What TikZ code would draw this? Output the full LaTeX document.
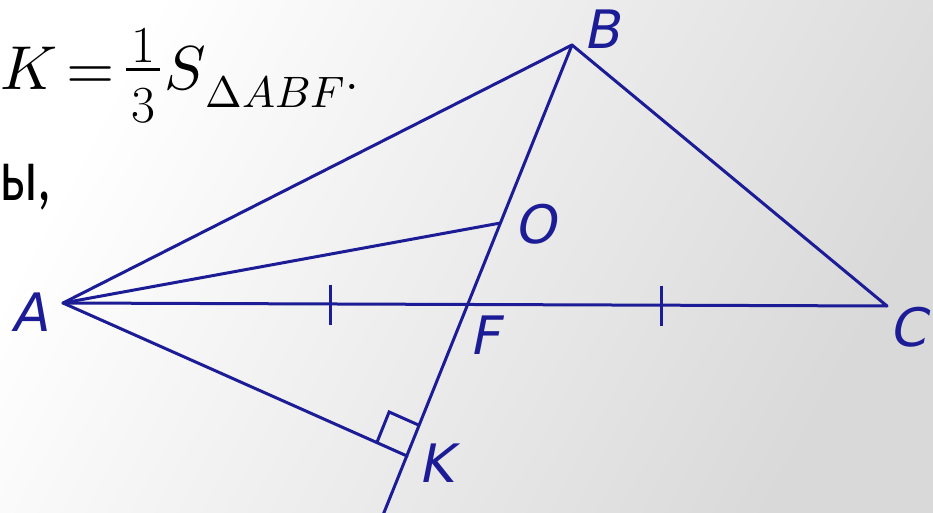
\documentclass[tikz,border=0pt]{standalone}
\usepackage{fontspec}
\usepackage{unicode-math}
\setmathfont{Latin Modern Math}
\newfontfamily\labelfont{DejaVu Sans}[FakeSlant=0.2]
\newfontfamily\cyrfont{Carlito}[FakeStretch=0.74]
\usetikzlibrary{calc}
\definecolor{geo}{RGB}{28,28,150}
\begin{document}
\begin{tikzpicture}[x=1pt,y=-1pt,
  seg/.style={draw=geo,line width=3pt,line cap=round,line join=round},
  ticksty/.style={draw=geo,line width=3pt},
  lab/.style={text=geo,inner sep=0pt,font=\labelfont\fontsize{53}{60}\selectfont}]
\useasboundingbox (0,0) rectangle (933,513);
\clip (0,0) rectangle (933,513);
\shade[top color=white, middle color=white, bottom color=black!15, shading angle=62] (0,0) rectangle (933,513);
% points
\coordinate (A) at (63,303);
\coordinate (B) at (572,45);
\coordinate (C) at (887,306);
\coordinate (O) at (500.5,223);
\coordinate (F) at (468,305);
\coordinate (K) at (407,456);
\coordinate (E) at (381,520);
\coordinate (T1) at (330,304.5);
\coordinate (T2) at (661,305.5);
\coordinate (RA) at ($(K)!33pt!(A)$);
\coordinate (RB) at ($(K)!33pt!(B)$);
\coordinate (RC) at ($(RA)+(RB)-(K)$);
% sides
\draw[seg] (A) -- (B) -- (C) -- cycle;
\draw[seg] (A) -- (O);
\draw[seg] (B) -- (E);
\draw[seg] (A) -- (K);
% right angle
\draw[draw=geo,line width=3pt,line join=miter] (RA) -- (RC) -- (RB);
% ticks
\draw[ticksty] ($(T1)+(0,-20)$) -- ($(T1)+(0,20)$);
\draw[ticksty] ($(T2)+(0,-20)$) -- ($(T2)+(0,20)$);
% labels
\node[lab] (lA) at (30,312) {A};
\node[lab] (lB) at (602,29) {B};
\node[lab] (lO) at (535,224) {O};
\node[lab] (lF) at (485,335) {F};
\node[lab] (lC) at (908,327) {C};
\node[lab] (lK) at (436,463) {K};
% text
\node[anchor=base west,inner sep=0pt,font=\fontsize{62}{70}\selectfont] (eq) at (0,90)
  {\makebox[66pt][l]{$K$}%
   \makebox[60pt][l]{$=$}%
   \makebox[0pt][l]{\makebox[34pt][c]{\raisebox{27pt}{\fontsize{52}{60}\selectfont 1}}}%
   \makebox[0pt][l]{\makebox[34pt][c]{\raisebox{-33pt}{\fontsize{52}{60}\selectfont 3}}}%
   \rule[19pt]{34pt}{2.5pt}%
   \hspace{4pt}$S$%
   \raisebox{-18pt}{\fontsize{44}{50}\selectfont$\Delta ABF$}.};
\node[anchor=base west,inner sep=0pt,font=\cyrfont\fontsize{76}{80}\selectfont] (tx) at (0,200) {ы,};
\end{tikzpicture}
\end{document}
